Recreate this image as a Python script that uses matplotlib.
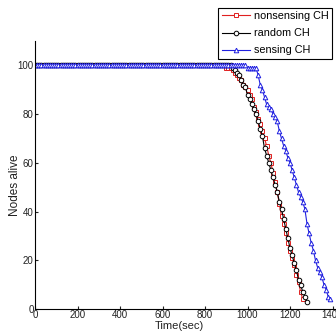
import matplotlib
matplotlib.use("Agg")
import matplotlib.pyplot as plt

# Flat section (all nodes alive) sampled every 10 s
flat_nonsensing_t = list(range(0, 900, 10))
flat_random_t = list(range(0, 930, 10))
flat_sensing_t = list(range(0, 1000, 10))

nonsensing_t = [900, 910, 920, 930, 940, 950, 960, 970, 980, 990, 1000, 1010, 1020,
                1030, 1040, 1050, 1060, 1070, 1080, 1090, 1100, 1110, 1120, 1130,
                1140, 1150, 1160, 1170, 1180, 1190, 1200, 1210, 1220, 1230, 1240,
                1250, 1260]
nonsensing_v = [99, 99, 99, 98, 97, 96, 95, 94, 92, 91, 90, 88, 86, 83, 81, 78, 76, 73,
                70, 67, 63, 60, 56, 52, 48, 43, 38, 35, 31, 27, 24, 21, 18, 14, 11, 7, 4]

random_t = [930, 940, 950, 960, 970, 980, 990, 1000, 1010, 1020, 1030, 1040, 1050,
            1060, 1070, 1080, 1090, 1100, 1110, 1120, 1130, 1140, 1150, 1160, 1170,
            1180, 1190, 1200, 1210, 1220, 1230, 1240, 1250, 1260, 1270, 1280]
random_v = [99, 98, 97, 96, 94, 92, 91, 88, 86, 84, 82, 80, 77, 74, 71, 66, 63, 60, 57,
            54, 51, 48, 44, 41, 37, 33, 29, 25, 22, 19, 16, 12, 10, 7, 5, 3]

sensing_t = [1000, 1010, 1020, 1030, 1040, 1050, 1060, 1070, 1080, 1090, 1100, 1110,
             1120, 1130, 1140, 1150, 1160, 1170, 1180, 1190, 1200, 1210, 1220, 1230,
             1240, 1250, 1260, 1270, 1280, 1290, 1300, 1310, 1320, 1330, 1340, 1350,
             1360, 1370, 1380, 1390]
sensing_v = [99, 99, 99, 99, 99, 96, 92, 90, 87, 84, 83, 82, 80, 79, 77, 73, 70, 67,
             65, 62, 60, 57, 54, 51, 48, 46, 44, 41, 35, 31, 27, 24, 20, 17, 15, 13, 10,
             8, 5, 4]

series_names = ["nonsensing CH", "random CH", "sensing CH"]
xticks = [0, 200, 400, 600, 800, 1000, 1200, 1400]
yticks = [0, 20, 40, 60, 80, 100]

plt.rcParams['font.family'] = ['Liberation Sans', 'DejaVu Sans']

W, H = 336, 331
fig = plt.figure(figsize=(W / 100, H / 100), dpi=100)
fig.patch.set_facecolor('white')
ax = fig.add_axes([35 / W, 22 / H, (W - 35) / W, (309 - 41) / H])

styles = [
    (flat_nonsensing_t + nonsensing_t, [100] * len(flat_nonsensing_t) + nonsensing_v, '#e02020', 's'),
    (flat_random_t + random_t, [100] * len(flat_random_t) + random_v, '#000000', 'o'),
    (flat_sensing_t + sensing_t, [100] * len(flat_sensing_t) + sensing_v, '#2020e0', '^'),
]
for (t, v, c, m), name in zip(styles, series_names):
    ax.plot(t, v, color=c, marker=m, markersize=3.3, markerfacecolor='white',
            markeredgecolor=c, markeredgewidth=0.7, linewidth=0.8, label=name)

ax.set_xlim(0, (W - 35) / 0.2125)
ax.set_ylim(0, 110)
ax.set_xticks(xticks)
ax.set_yticks(yticks)
ax.tick_params(labelsize=7, length=2, direction='in', pad=1.0, colors='#222222')
ax.spines['top'].set_visible(False)
ax.spines['right'].set_visible(False)
for s in ['left', 'bottom']:
    ax.spines[s].set_linewidth(0.8)
ax.set_xlabel("Time(sec)", fontsize=8, color='#222222')
ax.set_ylabel("Nodes alive", fontsize=8.5, color='#222222')
ax.xaxis.set_label_coords(0.48, -0.063)
ax.yaxis.set_label_coords(-0.068, 0.46)
ax.xaxis.label.set_va('center')
ax.yaxis.label.set_va('center')

leg = fig.legend(loc='upper right', bbox_to_anchor=(332 / W, 1 - 8 / H), fontsize=7.8,
                 frameon=True, fancybox=False, edgecolor='black', framealpha=1,
                 borderpad=0.3, labelspacing=0.65, handlelength=2.6, handletextpad=0.4,
                 borderaxespad=0)
leg.get_frame().set_linewidth(0.8)

fig.savefig("out.png", dpi=100)
